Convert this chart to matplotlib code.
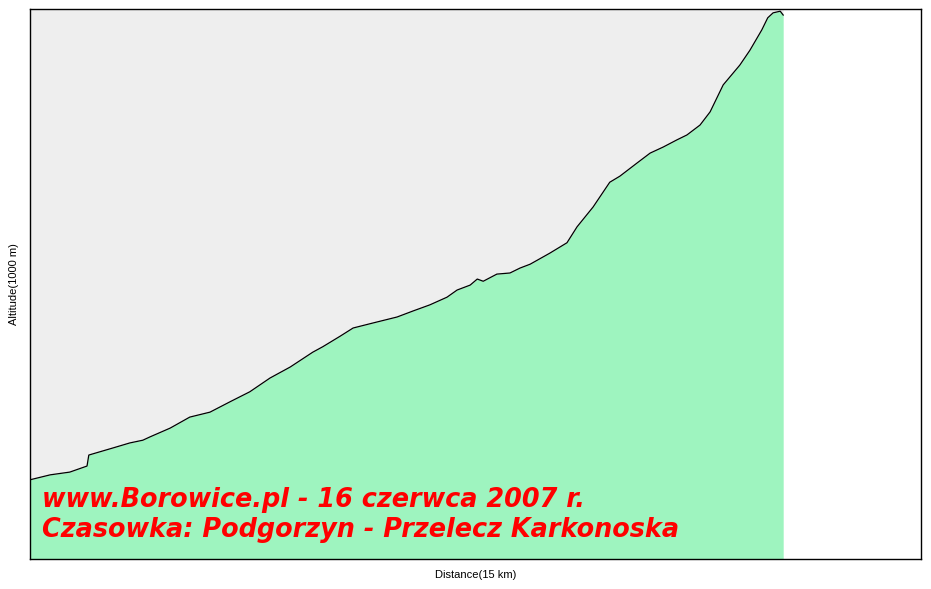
import numpy as np
import matplotlib.pyplot as plt

# profil trasy: odleglosc (km) i wysokosc (m n.p.m.)
dist = [0.00, 0.34, 0.67, 0.96, 0.99, 1.40, 1.68, 1.90, 2.02, 2.36, 2.69, 3.03,
        3.37, 3.70, 4.04, 4.38, 4.76, 4.93, 5.22, 5.44, 5.77, 6.18, 6.45, 6.73,
        7.02, 7.19, 7.41, 7.53, 7.63, 7.86, 8.08, 8.25, 8.42, 8.75, 9.04, 9.21,
        9.48, 9.76, 9.93, 10.22, 10.44, 10.66, 10.89, 11.06, 11.28, 11.45,
        11.67, 11.95, 12.12, 12.32, 12.42, 12.51, 12.63, 12.68]
alt = [344, 353, 358, 369, 389, 402, 411, 416, 422, 438, 458, 467,
       486, 504, 529, 549, 576, 586, 605, 620, 629, 640, 651, 662,
       676, 689, 698, 709, 705, 718, 720, 729, 736, 756, 775, 804,
       840, 885, 896, 920, 938, 949, 962, 971, 989, 1013,
       1062, 1098, 1125, 1162, 1184, 1193, 1196, 1189]

title_lines = ["www.Borowice.pl - 16 czerwca 2007 r.",
               "Czasowka: Podgorzyn - Przelecz Karkonoska"]

dist = np.array(dist)
alt = np.array(alt)

fig = plt.figure(figsize=(9.31, 5.89), dpi=100)
ax = fig.add_axes([30 / 931, 1 - 559 / 589, 891 / 931, 550 / 589])
ax.set_facecolor("white")
ax.set_xlim(0, 15)
ax.set_ylim(200, 1200)

# tlo nad profilem i wypelnienie pod profilem
ax.fill_between(dist, alt, 1200, color="#eeeeee", lw=0)
ax.fill_between(dist, 200, alt, color="#9ef4bf", lw=0)
ax.plot(dist, alt, color="black", lw=0.9)

for s in ax.spines.values():
    s.set_linewidth(1.0)
    s.set_color("black")
ax.set_xticks([])
ax.set_yticks([])

ax.set_xlabel("Distance(15 km)", fontsize=8, family="Liberation Sans", labelpad=8)
ax.set_ylabel("Altitude(1000 m)", fontsize=8, family="Liberation Sans", labelpad=8)

for txt, yb in zip(title_lines, [0.094, 0.040]):
    ax.text(0.0135, yb, txt, transform=ax.transAxes, color="red",
            fontsize=18.4, fontweight="bold", fontstyle="oblique",
            family="DejaVu Sans", va="baseline")

fig.savefig("out.png", dpi=100)
